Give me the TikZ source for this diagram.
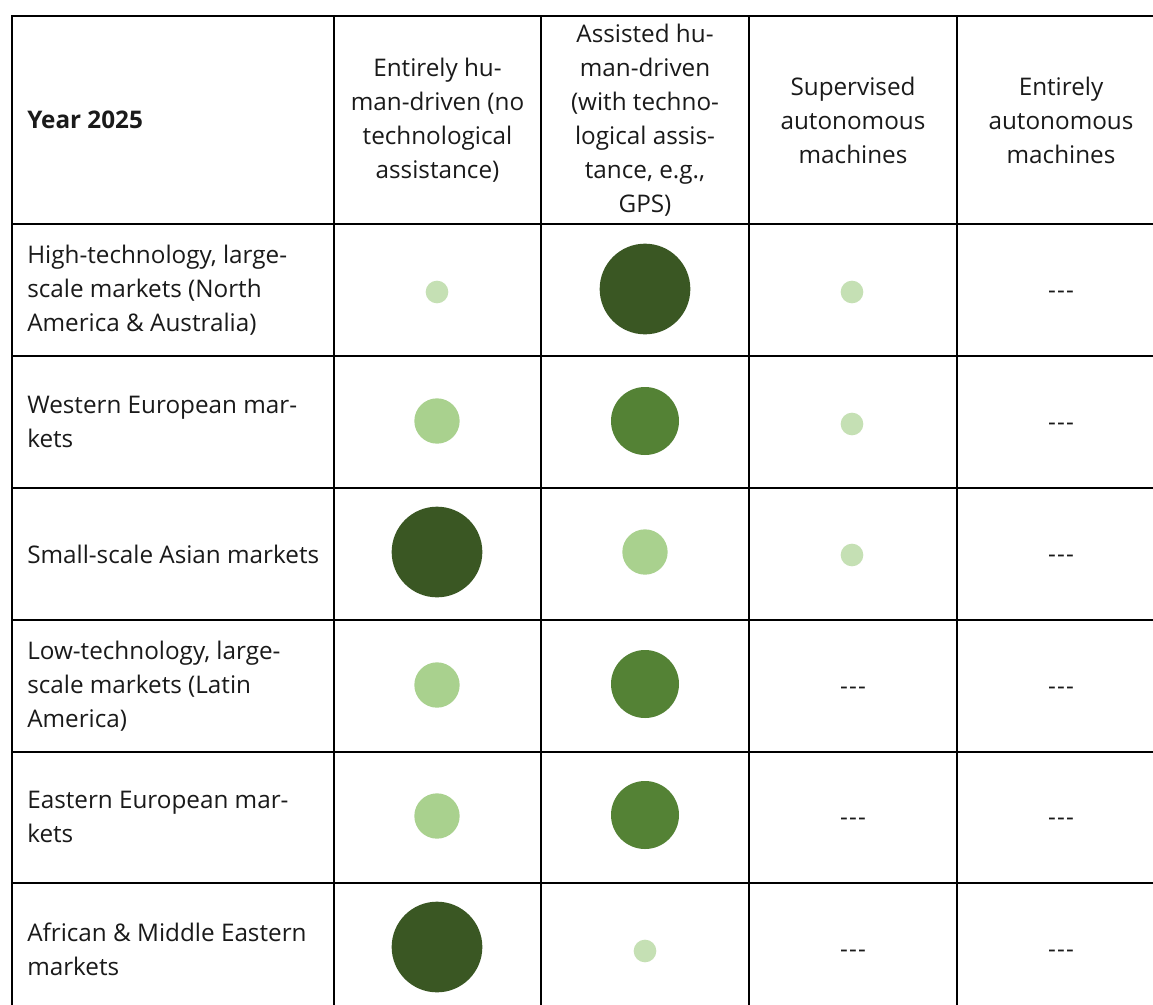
\documentclass[tikz,border=0pt]{standalone}
\usepackage{fontspec}
\setmainfont{Open Sans}
\definecolor{gsmall}{HTML}{C5E0B4}
\definecolor{gmlight}{HTML}{A9D18E}
\definecolor{gmed}{HTML}{548235}
\definecolor{gdark}{HTML}{3A5723}
\definecolor{txt}{HTML}{1A1A1A}
\newcommand{\tripdash}{-\kern0.9pt-\kern0.9pt-}
\begin{document}
\begin{tikzpicture}[x=0.75pt,y=-0.75pt,
  grid/.style={line width=1.5pt, black},
  cell/.style={align=center, text=txt, inner sep=0pt, font=\fontsize{18.2pt}{25.5pt}\selectfont},
  rowlab/.style={align=left, anchor=west, text=txt, inner sep=0pt, font=\fontsize{18.2pt}{25.5pt}\selectfont},
  dot/.style={circle, inner sep=0pt, draw=none},
  sdot/.style={dot, fill=gsmall, minimum size=17pt},
  mldot/.style={dot, fill=gmlight, minimum size=34pt},
  mdot/.style={dot, fill=gmed, minimum size=51pt},
  ddot/.style={dot, fill=gdark, minimum size=68pt},
  nil/.style={cell, yshift=-3.5pt}
]
\useasboundingbox (0,0) rectangle (1153,1004);
\fill[white] (0,0) rectangle (1153,1004);
\begin{scope}
\clip (0,0) rectangle (1153,1004);
% horizontal rules
\foreach \y in {16,224,356,488,620,752,883}
  \draw[grid] (11.25,\y) -- (1170,\y);
% vertical rules
\foreach \x in {12,334,541,749,957}
  \draw[grid] (\x,15.25) -- (\x,1020);
\end{scope}
% header
\node[rowlab, font=\fontsize{18.2pt}{25.5pt}\selectfont\bfseries] (h0) at (27,120) {Year 2025};
\node[cell] (h1) at (437.5,120) {Entirely hu-\\man-driven (no\\technological\\assistance)};
\node[cell] (h2) at (645,120) {Assisted hu-\\man-driven\\(with techno-\\logical assis-\\tance, e.g.,\\GPS)};
\node[cell] (h3) at (853,120) {Supervised\\autonomous\\machines};
\node[cell] (h4) at (1061,120) {Entirely\\autonomous\\machines};
% row labels
\node[rowlab] (r1) at (27,290) {High-technology, large-\\scale markets (North\\America \& Australia)};
\node[rowlab] (r2) at (27,422) {Western European mar-\\kets};
\node[rowlab] (r3) at (27,554) {Small-scale Asian markets};
\node[rowlab] (r4) at (27,686) {Low-technology, large-\\scale markets (Latin\\America)};
\node[rowlab] (r5) at (27,817) {Eastern European mar-\\kets};
\node[rowlab] (r6) at (27,949) {African \& Middle Eastern\\markets};
% row 1
\node[sdot] (c11) at (437,292) {};
\node[ddot] (c12) at (645,289) {};
\node[sdot] (c13) at (852,292) {};
\node[nil] (c14) at (1061,290) {\tripdash};
% row 2
\node[mldot] (c21) at (437,421) {};
\node[mdot] (c22) at (645,421) {};
\node[sdot] (c23) at (852,424) {};
\node[nil] (c24) at (1061,422) {\tripdash};
% row 3
\node[ddot] (c31) at (437,552) {};
\node[mldot] (c32) at (645,552) {};
\node[sdot] (c33) at (852,555) {};
\node[nil] (c34) at (1061,554) {\tripdash};
% row 4
\node[mldot] (c41) at (437,685) {};
\node[mdot] (c42) at (645,684) {};
\node[nil] (c43) at (853,686) {\tripdash};
\node[nil] (c44) at (1061,686) {\tripdash};
% row 5
\node[mldot] (c51) at (437,816) {};
\node[mdot] (c52) at (645,815) {};
\node[nil] (c53) at (853,817) {\tripdash};
\node[nil] (c54) at (1061,817) {\tripdash};
% row 6
\node[ddot] (c61) at (437,947) {};
\node[sdot] (c62) at (645,951) {};
\node[nil] (c63) at (853,949) {\tripdash};
\node[nil] (c64) at (1061,949) {\tripdash};
\end{tikzpicture}
\end{document}
